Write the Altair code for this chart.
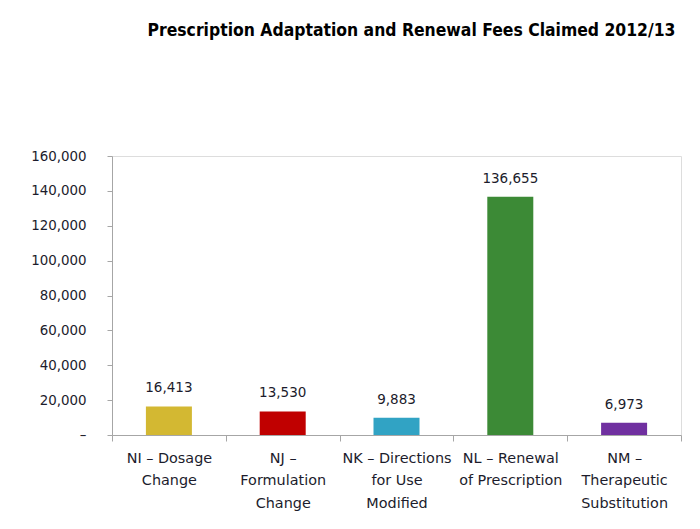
import altair as alt
import pandas as pd

categories = [
    "NI – Dosage|Change",
    "NJ –|Formulation|Change",
    "NK – Directions|for Use|Modified",
    "NL – Renewal|of Prescription",
    "NM –|Therapeutic|Substitution",
]
values = [16413, 13530, 9883, 136655, 6973]
colors = ["#D3B832", "#C00000", "#31A3C4", "#3C8A36", "#7030A0"]
y_ticks = [0, 20000, 40000, 60000, 80000, 100000, 120000, 140000, 160000]
title_text = "Prescription Adaptation and Renewal Fees Claimed 2012/13"

df = pd.DataFrame({"category": categories, "value": values})

label_font = "DejaVu Sans"
text_color = "#1c1c2c"
axis_grey = "#a6a6a6"

x_enc = alt.X(
    "category:N",
    sort=categories,
    scale=alt.Scale(paddingInner=0, paddingOuter=0),
    axis=alt.Axis(
        title=None,
        labelAngle=0,
        labelExpr="split(datum.label, '|')",
        labelFont=label_font,
        labelFontSize=14.4,
        labelColor=text_color,
        labelLineHeight=22.5,
        labelPadding=10,
        labelBaseline="top",
        labelOverlap=False,
        tickBand="extent",
        tickSize=6,
        tickColor=axis_grey,
        domainColor=axis_grey,
        grid=False,
    ),
)
y_enc = alt.Y(
    "value:Q",
    scale=alt.Scale(domain=[0, 160000], nice=False),
    axis=alt.Axis(
        title=None,
        values=y_ticks,
        format=",",
        labelExpr="datum.value == 0 ? '–\u00a0\u00a0' : format(datum.value, ',')",
        labelFont=label_font,
        labelFontSize=13.4,
        labelColor=text_color,
        labelPadding=21,
        labelOverlap=False,
        tickSize=5,
        tickColor=axis_grey,
        domainColor=axis_grey,
        grid=False,
    ),
)

bars = alt.Chart(df).mark_bar(width=46).encode(
    x=x_enc,
    y=y_enc,
    color=alt.Color(
        "category:N",
        scale=alt.Scale(domain=categories, range=colors),
        legend=None,
    ),
)

labels = alt.Chart(df).mark_text(
    dy=-14,
    baseline="alphabetic",
    font=label_font,
    fontSize=13.5,
    color=text_color,
).encode(
    x=x_enc,
    y=y_enc,
    text=alt.Text("value:Q", format=","),
)

chart = (
    alt.layer(bars, labels)
    .properties(
        width=569,
        height=279,
        title=alt.TitleParams(
            text=title_text,
            font="DejaVu Sans Condensed, DejaVu Sans, sans-serif",
            fontSize=17.4,
            fontWeight="bold",
            color="#000000",
            anchor="middle",
            frame="group",
            baseline="alphabetic",
            offset=96,
            dx=15,
        ),
        autosize=alt.AutoSizeParams(type="none"),
        padding={"left": 104, "top": 148, "right": 11, "bottom": 86},
    )
    .configure_view(strokeWidth=0, stroke="transparent")
    .configure(background="#ffffff")
)

chart.save("out.html", embed_options={"renderer": "svg", "actions": False})
